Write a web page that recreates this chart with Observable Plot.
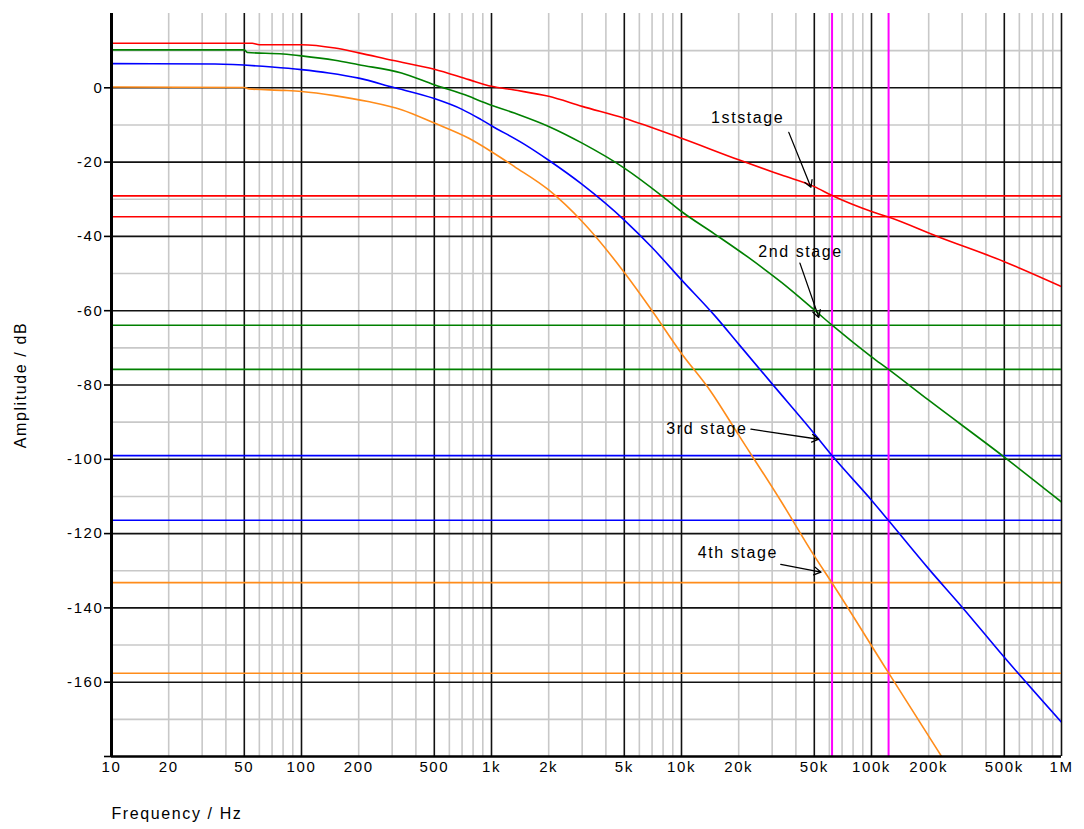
<!DOCTYPE html>
<html><head><meta charset="utf-8">
<script src="https://cdn.jsdelivr.net/npm/d3@7"></script>
<script src="https://cdn.jsdelivr.net/npm/@observablehq/plot@0.6"></script>
<style>
html,body{margin:0;padding:0;background:#fff;}
#chart svg{display:block;}
</style></head><body><div id="chart"></div>
<script>
// ---- data ----
const stages = ["1st stage", "2nd stage", "3rd stage", "4th stage"];
const stageColors = ["#ff0000", "#008000", "#0000ff", "#ff8c1a"];

// [frequency Hz, amplitude dB]
const stage1 = [[10,12.0],[55,12.0],[60,11.6],[100,11.6],[150,10.7],[200,9.4],[300,7.4],[500,5.0],[760,2.2],[1000,0.4],[1320,-0.6],[2000,-2.3],[3000,-5.0],[5000,-8.2],[10000,-13.6],[20000,-19.4],[33600,-23.5],[50000,-26.6],[62000,-29.0],[100000,-33.3],[123000,-34.8],[224000,-40.1],[500000,-46.8],[1000000,-53.5]];
const stage2 = [[10,10.2],[50,10.2],[52,9.5],[80,9.1],[100,8.6],[150,7.4],[200,6.2],[336,4.0],[500,0.8],[760,-2.3],[885,-3.7],[1320,-6.8],[2000,-10.4],[3000,-14.9],[5000,-21.6],[7850,-29.0],[10000,-33.3],[14900,-39.3],[22400,-45.6],[33600,-52.4],[50000,-59.8],[62000,-63.9],[100000,-72.4],[123000,-75.8],[200000,-84.1],[500000,-99.4],[1000000,-111.5]];
const stage3 = [[10,6.5],[35,6.4],[70,5.6],[100,4.9],[139,4.0],[200,2.6],[300,0.2],[500,-2.9],[700,-5.8],[877,-8.5],[1000,-10.2],[1500,-15.3],[2000,-19.5],[3000,-26.0],[5000,-35.6],[7000,-43.0],[10000,-51.7],[15000,-61.4],[20000,-69.0],[30000,-79.7],[50000,-93.1],[62000,-99.0],[100000,-111.0],[123000,-116.5],[200000,-129.5],[300000,-139.8],[500000,-153.3],[1000000,-170.8]];
const stage4 = [[10,0.2],[50,0.1],[53,-0.3],[81,-0.7],[100,-1.0],[149,-2.1],[224,-3.7],[336,-5.9],[500,-9.5],[760,-13.6],[1000,-17.2],[1320,-21.2],[2000,-27.5],[3000,-36.0],[5000,-49.7],[7000,-60.0],[10000,-71.5],[14200,-81.6],[20000,-93.5],[33600,-111.5],[50000,-126.0],[62000,-133.3],[123000,-157.5],[234000,-180.0]];

// attenuation levels read at the two marker frequencies
const levelStage = ["1st stage","1st stage","2nd stage","2nd stage","3rd stage","3rd stage","4th stage","4th stage"];
const levelDb = [-29.1, -34.7, -63.9, -75.8, -99.0, -116.4, -133.2, -157.6];

// marker frequencies (magenta)
const markerFreqs = [62000, 123000];

// annotations: text at (f, db), arrow from (af1, adb1) to (af2, adb2)
const noteLabels = ["1ststage", "2nd stage", "3rd stage", "4th stage"];
const noteF = [22300, 42300, 13600, 19800];
const noteDb = [-8.2, -44.3, -91.9, -125.3];
const arrowF1 = [36700, 42000, 23200, 33300];
const arrowDb1 = [-12.0, -47.2, -91.9, -128.3];
const arrowF2 = [48000, 52800, 52800, 54200];
const arrowDb2 = [-26.8, -61.8, -94.6, -130.4];

// ticks
const xTickValues = [10,20,50,100,200,500,1000,2000,5000,10000,20000,50000,100000,200000,500000,1000000];
const xTickLabels = ["10","20","50","100","200","500","1k","2k","5k","10k","20k","50k","100k","200k","500k","1M"];
const yTickValues = [0,-20,-40,-60,-80,-100,-120,-140,-160];
const gridMajorX = [10,50,100,500,1000,5000,10000,50000,100000,500000,1000000];
const gridMinorX = [20,30,40,60,70,80,90,200,300,400,600,700,800,900,2000,3000,4000,6000,7000,8000,9000,20000,30000,40000,60000,70000,80000,90000,200000,300000,400000,600000,700000,800000,900000];
const gridMajorY = [0,-20,-40,-60,-80,-100,-120,-140,-160];
const gridMinorY = [10,-10,-30,-50,-70,-90,-110,-130,-150,-170];

const xTitle = "Frequency / Hz";
const yTitle = "Amplitude / dB";

// ---- build tables ----
const curves = [stage1, stage2, stage3, stage4].flatMap((s, i) => s.map(([f, db]) => ({stage: stages[i], f, db})));
const levels = levelDb.map((db, i) => ({stage: levelStage[i], db}));
const notes = noteLabels.map((label, i) => ({label, f: noteF[i], db: noteDb[i], f1: arrowF1[i], db1: arrowDb1[i], f2: arrowF2[i], db2: arrowDb2[i]}));
const xTicks = xTickValues.map((v, i) => ({v, label: xTickLabels[i]}));

const font = "'Liberation Sans', Arial, sans-serif";

const chart = Plot.plot({
  width: 1084,
  height: 829,
  marginLeft: 111,
  marginRight: 23,
  marginTop: 13,
  marginBottom: 73,
  style: {fontFamily: font, fontSize: "15px", background: "#fff", color: "#000"},
  x: {type: "log", domain: [10, 1e6], axis: null},
  y: {domain: [-180, 20], axis: null},
  color: {domain: stages, range: stageColors},
  marks: [
    Plot.ruleX(gridMinorX, {stroke: "#c8c8c8", strokeWidth: 1.6}),
    Plot.ruleY(gridMinorY, {stroke: "#c8c8c8", strokeWidth: 1.6}),
    Plot.ruleX(gridMajorX, {stroke: "#111", strokeWidth: 1.6}),
    Plot.ruleY(gridMajorY, {stroke: "#111", strokeWidth: 1.6}),
    Plot.ruleY(levels, {y: "db", stroke: "stage", strokeWidth: 1.6}),
    Plot.ruleX(markerFreqs, {stroke: "#ff00ff", strokeWidth: 2}),
    Plot.line(curves, {x: "f", y: "db", z: "stage", stroke: "stage", strokeWidth: 1.6, curve: "monotone-x", clip: true}),
    Plot.ruleX([10], {stroke: "#000", strokeWidth: 3}),
    Plot.ruleY([-180], {stroke: "#000", strokeWidth: 2.5}),
    Plot.text(xTicks, {x: "v", text: "label", frameAnchor: "bottom", dy: 15, fontSize: 15}),
    Plot.axisY(yTickValues, {tickSize: 7, tickPadding: 1, tickFormat: d => String(d), label: null, fontSize: 15, strokeWidth: 1.6}),
    Plot.axisY([-180], {tickSize: 7, tickFormat: () => "", label: null, strokeWidth: 1.6}),
    Plot.text([xTitle], {frameAnchor: "bottom-left", dy: 62, textAnchor: "start", fontSize: 16}),
    Plot.text([yTitle], {frameAnchor: "left", dx: -91, rotate: -90, textAnchor: "middle", fontSize: 16}),
    Plot.text(notes, {x: "f", y: "db", text: "label", fontSize: 16, fill: "#000"}),
    Plot.arrow(notes, {x1: "f1", y1: "db1", x2: "f2", y2: "db2", stroke: "#000", strokeWidth: 1.3, headLength: 9, insetStart: 0, insetEnd: 0})
  ]
});
// letter spacing similar to the reference's spaced-out bitmap font
chart.querySelectorAll("text").forEach(t => t.setAttribute("letter-spacing", "1.6"));
document.getElementById("chart").appendChild(chart);
</script>
</body></html>
